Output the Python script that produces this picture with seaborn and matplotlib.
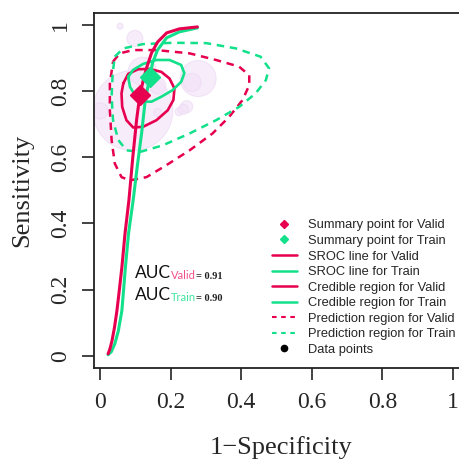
import numpy as np
import pandas as pd
import seaborn as sns
import matplotlib.pyplot as plt
from matplotlib.lines import Line2D

sns.set_style("white")
plt.rcParams['font.family'] = ['Liberation Serif', 'DejaVu Serif']

RED = "#e6004f"
GREEN = "#12e08a"

# study data points (bubbles): fpr, sens, radius in px
pts_fpr = [0.057, 0.099, 0.093, 0.278, 0.261, 0.246, 0.224, 0.164, 0.120, 0.000, 0.164, 0.236]
pts_sens = [0.996, 0.959, 0.741, 0.838, 0.826, 0.753, 0.738, 0.816, 0.860, 0.740, 0.735, 0.745]
pts_r = [3, 8, 40, 18, 9, 6, 4, 8, 14, 8, 4, 5]

# summary points
sum_valid = (0.113, 0.788)
sum_train = (0.141, 0.842)

# SROC curves
sroc_valid_x = [0.023, 0.028, 0.034, 0.041, 0.048, 0.055, 0.062, 0.071, 0.082, 0.093, 0.104, 0.113,
                0.121, 0.132, 0.146, 0.163, 0.189, 0.225, 0.276]
sroc_valid_y = [0.006, 0.020, 0.045, 0.085, 0.136, 0.200, 0.267, 0.370, 0.470, 0.600, 0.715, 0.788,
                0.825, 0.870, 0.915, 0.948, 0.976, 0.988, 0.994]
sroc_train_x = [0.023, 0.032, 0.042, 0.052, 0.062, 0.067, 0.072, 0.081, 0.094, 0.106, 0.118, 0.128,
                0.141, 0.149, 0.163, 0.189, 0.225, 0.276]
sroc_train_y = [0.003, 0.012, 0.036, 0.075, 0.136, 0.200, 0.267, 0.370, 0.470, 0.575, 0.673, 0.770,
                0.842, 0.885, 0.924, 0.961, 0.979, 0.991]

# credible regions
cred_valid_x = [0.066, 0.080, 0.108, 0.141, 0.174, 0.197, 0.211, 0.208, 0.192, 0.160, 0.122, 0.094, 0.075, 0.063, 0.061]
cred_valid_y = [0.823, 0.852, 0.866, 0.867, 0.858, 0.838, 0.808, 0.773, 0.742, 0.712, 0.692, 0.690, 0.712, 0.752, 0.793]
cred_train_x = [0.080, 0.094, 0.122, 0.160, 0.197, 0.230, 0.239, 0.230, 0.206, 0.174, 0.146, 0.122, 0.099, 0.085]
cred_train_y = [0.843, 0.864, 0.882, 0.894, 0.894, 0.879, 0.854, 0.828, 0.803, 0.783, 0.768, 0.768, 0.788, 0.813]

# prediction regions
pred_valid_x = [0.037, 0.056, 0.094, 0.160, 0.254, 0.329, 0.394, 0.423, 0.423, 0.404, 0.366, 0.319, 0.254,
                0.188, 0.132, 0.085, 0.061, 0.042, 0.033, 0.028, 0.028]
pred_valid_y = [0.889, 0.914, 0.924, 0.924, 0.914, 0.894, 0.874, 0.848, 0.818, 0.773, 0.722, 0.672, 0.621,
                0.576, 0.540, 0.530, 0.540, 0.581, 0.652, 0.742, 0.823]
pred_train_x = [0.042, 0.066, 0.122, 0.206, 0.301, 0.385, 0.455, 0.479, 0.470, 0.441, 0.394, 0.329, 0.254,
                0.178, 0.113, 0.075, 0.052, 0.037, 0.033, 0.036]
pred_train_y = [0.904, 0.929, 0.942, 0.946, 0.945, 0.929, 0.904, 0.869, 0.833, 0.793, 0.752, 0.712, 0.672,
                0.636, 0.616, 0.621, 0.652, 0.712, 0.783, 0.854]

auc_valid = 0.91
auc_train = 0.90


def closed(xs, ys):
    return pd.DataFrame({'x': list(xs) + [xs[0]], 'y': list(ys) + [ys[0]]})


fig = plt.figure(figsize=(4.59, 4.61), dpi=100)
ax = fig.add_axes([0.2055, 0.2017, 0.812, 0.7701])

# bubbles
df_pts = pd.DataFrame({'x': pts_fpr, 'y': pts_sens, 's': [(2 * r * 0.72) ** 2 for r in pts_r]})
ax.scatter(df_pts['x'], df_pts['y'], s=df_pts['s'], color="#f3e2f8", alpha=0.6,
           edgecolor="#ecd6f4", linewidth=0.8, zorder=1)

# prediction regions (dashed)
sns.lineplot(data=closed(pred_valid_x, pred_valid_y), x='x', y='y', sort=False, estimator=None,
             color=RED, lw=1.8, ax=ax, zorder=2).lines[-1].set_dashes((3, 2.3))
sns.lineplot(data=closed(pred_train_x, pred_train_y), x='x', y='y', sort=False, estimator=None,
             color=GREEN, lw=1.8, ax=ax, zorder=2).lines[-1].set_dashes((3, 2.3))

# credible regions
sns.lineplot(data=closed(cred_valid_x, cred_valid_y), x='x', y='y', sort=False, estimator=None,
             color=RED, lw=1.9, ax=ax, zorder=3)
sns.lineplot(data=closed(cred_train_x, cred_train_y), x='x', y='y', sort=False, estimator=None,
             color=GREEN, lw=1.9, ax=ax, zorder=3)

# SROC lines
sns.lineplot(x=sroc_train_x, y=sroc_train_y, sort=False, estimator=None, color=GREEN, lw=2.2, ax=ax, zorder=4)
sns.lineplot(x=sroc_valid_x, y=sroc_valid_y, sort=False, estimator=None, color=RED, lw=2.2, ax=ax, zorder=4)

# summary points
ax.plot(*sum_valid, marker='D', ms=10, color=RED, ls='none', zorder=5)
ax.plot(*sum_train, marker='D', ms=10, color=GREEN, ls='none', zorder=5)

ax.set_xlim(-0.016, 1.04)
ax.set_ylim(-0.037, 1.036)
ax.set_xticks([0, 0.2, 0.4, 0.6, 0.8, 1])
ax.set_xticklabels(['0', '0.2', '0.4', '0.6', '0.8', '1'])
ax.set_yticks([0, 0.2, 0.4, 0.6, 0.8, 1])
ax.set_yticklabels(['0', '0.2', '0.4', '0.6', '0.8', '1'])
ax.tick_params(axis='both', direction='out', length=8.5, width=1.2, color='#222222',
               labelsize=17, bottom=True, left=True)
ax.tick_params(axis='x', pad=9)
ax.tick_params(axis='y', pad=8)
for lab in ax.get_yticklabels():
    lab.set_rotation(90)
    lab.set_va('center')
for sp in ax.spines.values():
    sp.set_color('#222222')
    sp.set_linewidth(1.3)

ax.set_xlabel('1\u2212Specificity', fontsize=19, labelpad=16)
ax.set_ylabel('Sensitivity', fontsize=19, labelpad=12)

# AUC annotations
for ypos, name, col, val in [(0.235, 'Valid', "#f0508a", auc_valid), (0.168, 'Train', "#3ee6a0", auc_train)]:
    t1 = ax.text(0.099, ypos, 'AUC', fontsize=12.5, family=['Lato', 'DejaVu Sans'], color='#111111',
                 va='baseline')
    t2 = ax.annotate(name, xy=(1, 0), xycoords=t1, fontsize=8, family=['Lato', 'DejaVu Sans'],
                     color=col, va='bottom')
    ax.annotate('= %.2f' % val, xy=(1, 0), xycoords=t2, fontsize=7.5, fontweight='bold',
                color='#222222', va='bottom')

# legend
handles = [
    Line2D([], [], marker='D', ms=4, color=RED, ls='none'),
    Line2D([], [], marker='D', ms=4, color=GREEN, ls='none'),
    Line2D([], [], color=RED, lw=1.8),
    Line2D([], [], color=GREEN, lw=1.8),
    Line2D([], [], color=RED, lw=1.8),
    Line2D([], [], color=GREEN, lw=1.8),
    Line2D([], [], color=RED, lw=1.5, ls=(0, (2.2, 2.2))),
    Line2D([], [], color=GREEN, lw=1.5, ls=(0, (2.2, 2.2))),
    Line2D([], [], marker='o', ms=4.5, color='black', ls='none'),
]
labels = ['Summary point for Valid', 'Summary point for Train', 'SROC line for Valid', 'SROC line for Train',
          'Credible region for Valid', 'Credible region for Train', 'Prediction region for Valid',
          'Prediction region for Train', 'Data points']
fig.legend(handles, labels, loc='upper left', bbox_to_anchor=(0.593, 0.524), frameon=False,
           prop={'family': ['Liberation Sans', 'DejaVu Sans'], 'size': 9.3},
           handlelength=1.9, handletextpad=0.85, labelspacing=0.27, borderpad=0, borderaxespad=0)

fig.savefig('out.png', dpi=100)
